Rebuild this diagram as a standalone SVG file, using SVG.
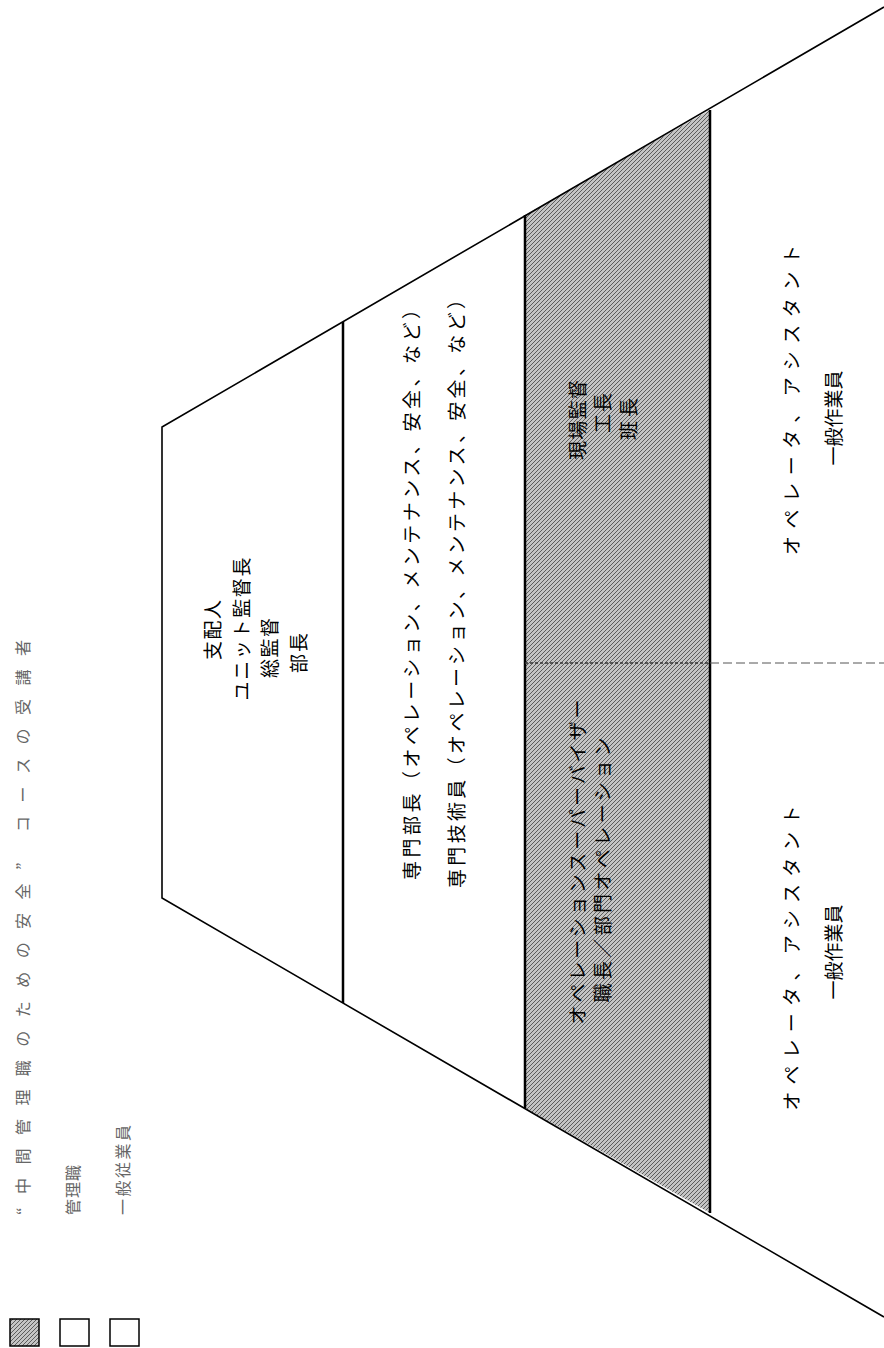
<svg xmlns="http://www.w3.org/2000/svg" width="884" height="1348" viewBox="0 0 884 1348">
<defs>
<pattern id="hatch" width="4" height="4" patternUnits="userSpaceOnUse">
<rect width="4" height="4" fill="#c4c4c4"/>
<path d="M-1,1 L1,-1 M0,4 L4,0 M3,5 L5,3" stroke="#5c5c5c" stroke-width="1"/>
</pattern>
<style>
.t{font-family:"Noto Sans CJK JP","Noto Sans CJK SC",sans-serif;font-size:19px;fill:#000;text-anchor:middle;dominant-baseline:central;}
.lg{font-family:"Noto Sans CJK JP","Noto Sans CJK SC",sans-serif;font-size:16px;fill:#666;text-anchor:start;dominant-baseline:central;}
.edge{stroke:#000;stroke-width:1.6;fill:none;}
.div{stroke:#000;stroke-width:2.5;fill:none;}
.box{stroke:#000;stroke-width:1.5;}
</style>
</defs>
<rect width="884" height="1348" fill="#fff"/>

<g id="shaded-band">
<polygon points="525,215 710,110 710,1213 525,1108" fill="url(#hatch)"/>
</g>

<g id="connectors">
<polyline class="edge" points="884,7 162,427 162,898 884,1317"/>
<line class="div" x1="343" y1="322" x2="343" y2="1003"/>
<line class="div" x1="525" y1="215" x2="525" y2="1108"/>
<line class="div" x1="710" y1="110" x2="710" y2="1213" stroke-width="3"/>
<line x1="525" y1="663" x2="710" y2="663" stroke="#333" stroke-width="1.5" stroke-dasharray="3 2"/>
<line x1="710" y1="663" x2="884" y2="663" stroke="#555" stroke-width="1" stroke-dasharray="9 4"/>
</g>

<g id="node-top-management">
<text class="t" transform="translate(211,630) rotate(-90)" textLength="60" lengthAdjust="spacing">支配人</text>
<text class="t" transform="translate(240,629) rotate(-90)" textLength="143" lengthAdjust="spacing">ユニット監督長</text>
<text class="t" transform="translate(268,648) rotate(-90)" textLength="60" lengthAdjust="spacing">総監督</text>
<text class="t" transform="translate(297,653) rotate(-90)" textLength="40" lengthAdjust="spacing">部長</text>
</g>

<g id="node-specialists">
<text class="t" transform="translate(410,590) rotate(-90)" textLength="580" lengthAdjust="spacing">専門部長（オペレーション、メンテナンス、安全、など）</text>
<text class="t" transform="translate(455,589) rotate(-90)" textLength="598" lengthAdjust="spacing">専門技術員（オペレーション、メンテナンス、安全、など）</text>
</g>

<g id="node-site-supervisors">
<text class="t" transform="translate(576,420) rotate(-90)" textLength="80" lengthAdjust="spacing">現場監督</text>
<text class="t" transform="translate(601,413) rotate(-90)" textLength="40" lengthAdjust="spacing">工長</text>
<text class="t" transform="translate(627,419) rotate(-90)" textLength="42" lengthAdjust="spacing">班長</text>
</g>

<g id="node-operation-supervisors">
<text class="t" transform="translate(576,862) rotate(-90)" textLength="325" lengthAdjust="spacing">オペレーションスーパーバイザー</text>
<text class="t" transform="translate(601,870) rotate(-90)" textLength="265" lengthAdjust="spacing">職長／部門オペレーション</text>
</g>

<g id="node-operators-upper">
<text class="t" transform="translate(790,400) rotate(-90)" textLength="310" lengthAdjust="spacing">オペレータ、アシスタント</text>
<text class="t" transform="translate(832,418) rotate(-90)" textLength="95" lengthAdjust="spacing">一般作業員</text>
</g>

<g id="node-operators-lower">
<text class="t" transform="translate(790,958) rotate(-90)" textLength="305" lengthAdjust="spacing">オペレータ、アシスタント</text>
<text class="t" transform="translate(832,952) rotate(-90)" textLength="95" lengthAdjust="spacing">一般作業員</text>
</g>

<g id="legend">
<rect class="box" x="10" y="1319" width="29" height="27" fill="url(#hatch)"/>
<rect class="box" x="60" y="1319" width="29" height="27" fill="#fff"/>
<rect class="box" x="110" y="1319" width="29" height="27" fill="#fff"/>
<text class="lg" transform="translate(22,1215) rotate(-90)" textLength="575" lengthAdjust="spacing">“中間管理職のための安全” コースの受講者</text>
<text class="lg" transform="translate(72,1215) rotate(-90)" textLength="50" lengthAdjust="spacing">管理職</text>
<text class="lg" transform="translate(122,1215) rotate(-90)" textLength="90" lengthAdjust="spacing">一般従業員</text>
</g>
</svg>
